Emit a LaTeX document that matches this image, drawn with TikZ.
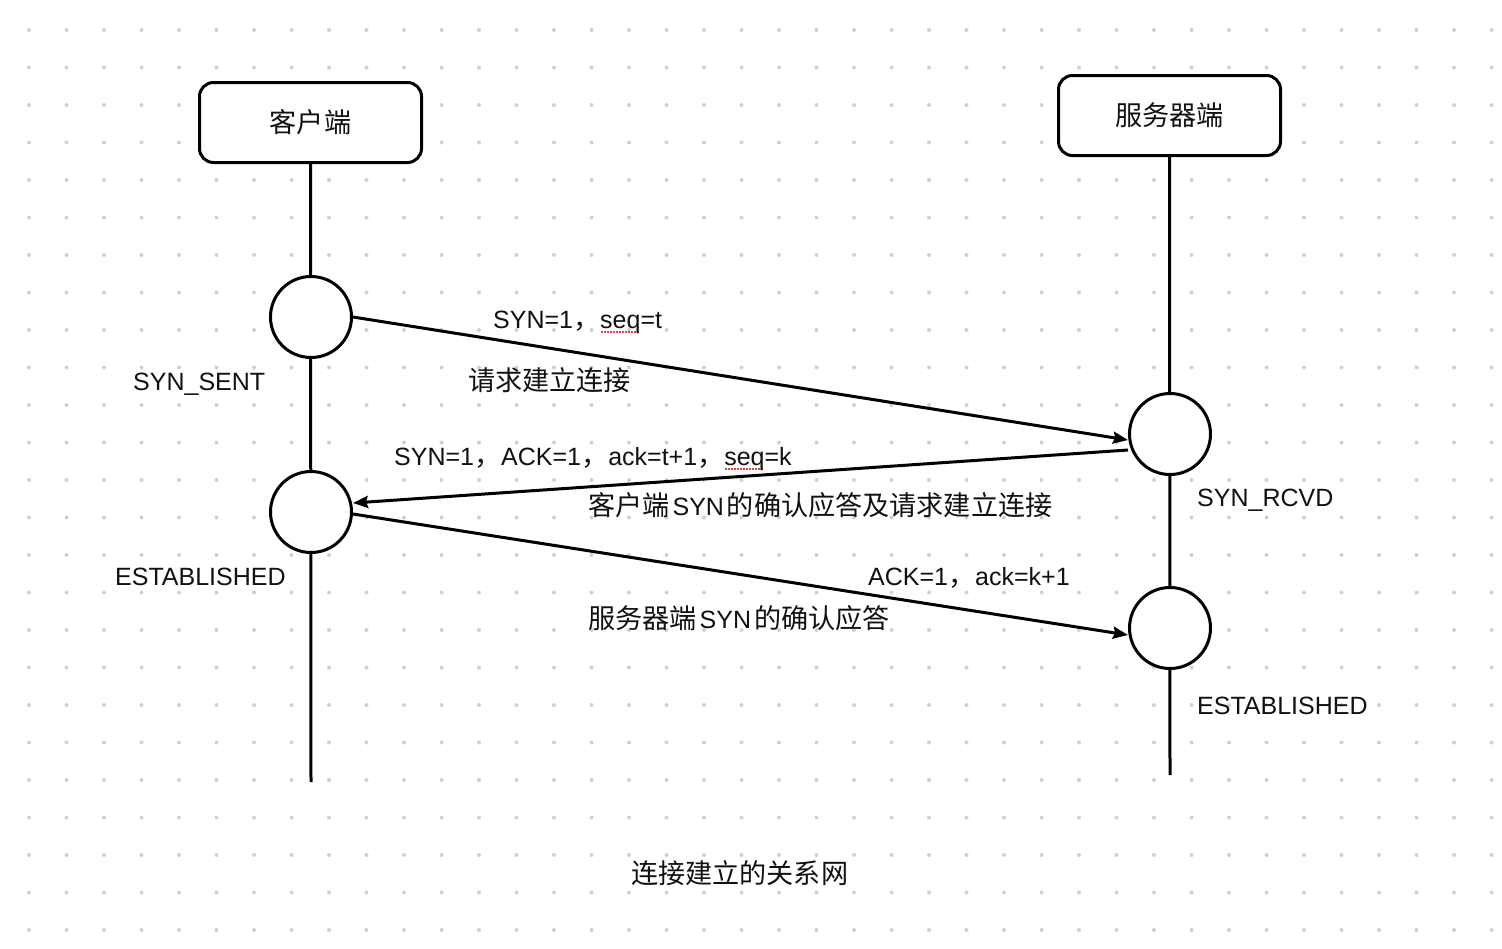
\documentclass[tikz,border=0pt]{standalone}
\usepackage{fontspec}
\setmainfont{Liberation Sans}
\newfontfamily\cjk[Scale=1.085]{Noto Sans CJK SC}
\usetikzlibrary{arrows.meta,calc}
\definecolor{dotgray}{HTML}{D0D0D0}
\definecolor{inkblack}{HTML}{111111}
\definecolor{spellred}{HTML}{E8403A}
% dotted red underline, as a spell checker marks a word
\newcommand\spellmark[1]{\setbox0=\hbox{#1}\rlap{\color{spellred}\raisebox{-4.5pt}{\leaders\hbox to 3pt{\hss\rule{2pt}{2pt}\hss}\hskip\wd0}}\box0}
\newcommand\zc{{\cjk ，}}
\newcommand\lat[1]{\hspace{3pt}#1\hspace{3pt}}
\begin{document}
\begin{tikzpicture}[x=1pt,y=-1pt,
  txt/.style={font=\fontsize{25pt}{30pt}\selectfont, text=inkblack},
  lbl/.style={txt, anchor=base west, inner sep=0pt},
  party/.style={txt, draw=black, line width=3pt, fill=white, rounded corners=14pt,
    minimum width=222pt, minimum height=80pt, inner sep=0pt},
  state/.style={circle, draw=black, line width=3pt, fill=white, minimum size=81pt, inner sep=0pt},
  life/.style={draw=black, line width=3pt},
  msg/.style={draw=black, line width=3pt, -{Stealth[length=15pt,width=12pt,inset=2pt]}}]
\useasboundingbox (0,0) rectangle (1502,948);
\fill[white] (0,0) rectangle (1502,948);
% dotted grid
\foreach \i in {0,...,39}
  \foreach \j in {0,...,24}
    \fill[dotgray] (29+37.5*\i, 30+37.5*\j) circle (2pt);

% parties
\node[party] (client) at (310.5,122.5) {\cjk 客户端};
\node[party] (server) at (1169.5,115.5) {\cjk 服务器端};
\coordinate (cend) at (311,782);
\coordinate (send) at (1170,775);
\draw[life] (client.south) -- (cend);
\draw[life] (server.south) -- (send);

% states
\node[state] (c1) at (311,317) {};
\node[state] (c2) at (311,512) {};
\node[state] (s1) at (1170,434) {};
\node[state] (s2) at (1170,628) {};

% handshake messages
\draw[msg] (c1.east) -- ([yshift=-6pt]s1.west);
\draw[msg] ([yshift=-16pt]s1.west) -- ([yshift=9pt]c2.east);
\draw[msg] ([yshift=-2pt]c2.east) -- ([yshift=-7pt]s2.west);

% labels
\node[lbl] (l1) at (493,328) {SYN=1\zc\spellmark{seq}=t};
\node[lbl] (l2) at (468,390) {\cjk 请求建立连接};
\node[lbl] (l3) at (133,390) {SYN\_SENT};
\node[lbl] (l4) at (394,465) {SYN=1\zc ACK=1\zc ack=t+1\zc\spellmark{seq}=k};
\node[lbl] (l5) at (588,515) {{\cjk 客户端}\lat{SYN}{\cjk 的确认应答及请求建立连接}};
\node[lbl] (l6) at (115,585) {ESTABLISHED};
\node[lbl] (l7) at (1197,506) {SYN\_RCVD};
\node[lbl] (l8) at (868,585) {ACK=1\zc ack=k+1};
\node[lbl] (l9) at (588,628) {{\cjk 服务器端}\lat{SYN}{\cjk 的确认应答}};
\node[lbl] (l10) at (1197,714) {ESTABLISHED};
\node[lbl] (title) at (631,883) {\cjk 连接建立的关系网};
\end{tikzpicture}
\end{document}
